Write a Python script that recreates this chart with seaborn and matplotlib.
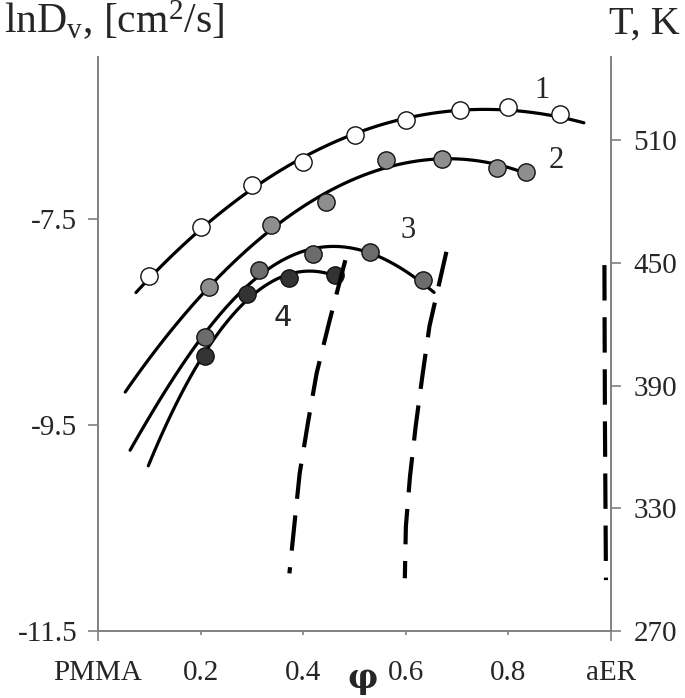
import matplotlib
matplotlib.use("Agg")
import matplotlib.pyplot as plt
import numpy as np
import pandas as pd
import seaborn as sns

# composition (phi) and lnDv, one set per curve
phi1 = [0.10, 0.20, 0.30, 0.40, 0.50, 0.60, 0.705, 0.80, 0.90]
lnd1 = [-8.05, -7.58, -7.17, -6.94, -6.68, -6.54, -6.44, -6.41, -6.48]
phi2 = [0.217, 0.337, 0.445, 0.561, 0.670, 0.777, 0.835]
lnd2 = [-8.16, -7.56, -7.33, -6.93, -6.92, -7.00, -7.04]
phi3 = [0.208, 0.313, 0.419, 0.531, 0.633]
lnd3 = [-8.64, -7.99, -7.84, -7.82, -8.09]
phi4 = [0.208, 0.291, 0.373, 0.461]
lnd4 = [-8.83, -8.23, -8.07, -8.04]

# where each drawn curve starts / stops (outside the markers)
ends1 = ([0.074, 0.947], [-8.25, -6.60])
ends2 = ([0.053], [-9.18])
ends3 = ([0.0625, 0.655], [-9.74, -8.24])
ends4 = ([0.098], [-9.89])

# dashed temperature curves, right axis (T, K)
dashA_phi = [0.482, 0.450, 0.426, 0.409, 0.393, 0.383, 0.373]
dashA_T = [451.4, 420.5, 396.0, 371.6, 347.1, 322.7, 298.2]
dashB_phi = [0.679, 0.646, 0.632, 0.619, 0.608, 0.600, 0.598]
dashB_T = [455.5, 419.1, 394.4, 369.9, 345.5, 321.0, 295.8]
dashC_phi = [0.987, 0.988, 0.990]
dashC_T = [449.0, 372.0, 294.9]

xtick_pos = [0, 0.2, 0.4, 0.6, 0.8, 1.0]
xtick_lab = ["PMMA", "0.2", "0.4", "0.6", "0.8", "aER"]
ytick_left = [-11.5, -9.5, -7.5]
ytick_right = [270, 330, 390, 450, 510]

sns.set_style("white")
plt.rcParams["font.family"] = ["Liberation Serif", "DejaVu Serif"]
plt.rcParams["mathtext.fontset"] = "custom"
plt.rcParams["mathtext.rm"] = "Liberation Serif"
plt.rcParams["mathtext.it"] = "Liberation Serif"

spine_col = "#808080"

fig = plt.figure(figsize=(6.85, 6.98), dpi=100)
ax = fig.add_axes([0.1431, 0.096, 0.749, 0.822])

curves = [
    (phi1, lnd1, ends1, "white", 3),
    (phi2, lnd2, ends2, "#8e8e8e", 4),
    (phi3, lnd3, ends3, "#6c6c6c", 4),
    (phi4, lnd4, ends4, "#333333", 3),
]
for phi, lnd, ends, col, order in curves:
    df = pd.DataFrame({"phi": list(phi) + ends[0], "lnd": list(lnd) + ends[1]})
    sns.regplot(data=df, x="phi", y="lnd", order=order, ci=None, scatter=False,
                truncate=True, line_kws={"color": "black", "lw": 2.3, "zorder": 2},
                ax=ax)
    sns.scatterplot(x=phi, y=lnd, s=155, color=col, edgecolor="#111111",
                    linewidth=1.0, zorder=3, ax=ax)

ax.set_xlim(0, 1)
ax.set_ylim(-11.5, -5.927)
ax.set_xlabel("")
ax.set_ylabel("")

ax2 = ax.twinx()
for px, pt in [(dashA_phi, dashA_T), (dashB_phi, dashB_T), (dashC_phi, dashC_T)]:
    sns.lineplot(x=px, y=pt, color="black", lw=3.0, sort=False, ax=ax2,
                 dashes=False).lines[-1].set_dashes((8.5, 4))
ax2.set_ylim(270, 550.7)
ax2.set_yticks(ytick_right)
ax2.set_ylabel("")

# axes styling
for a in (ax, ax2):
    a.spines["top"].set_visible(False)
    for s in ("left", "right", "bottom"):
        a.spines[s].set_color(spine_col)
        a.spines[s].set_linewidth(1.2)

ax.set_xticks(xtick_pos)
ax.set_xticklabels(xtick_lab)
ax.set_yticks(ytick_left)
ax.set_yticklabels(["-11.5", "-9.5", "-7.5"])
ax.tick_params(axis="x", direction="out", length=3, width=1.2, color=spine_col,
               pad=18, labelsize=21, bottom=True)
ax.tick_params(axis="y", direction="out", length=7, width=1.2, color=spine_col,
               pad=8, labelsize=21, left=True)
ax2.tick_params(axis="y", direction="out", length=7, width=1.2, color=spine_col,
                pad=9, labelsize=21, right=True)
ax.xaxis.get_major_ticks()[0].tick1line.set_markersize(7)
ax.xaxis.get_major_ticks()[-1].tick1line.set_markersize(7)

# curve numbers
ax.text(0.865, -6.25, "1", fontsize=22, ha="center", va="center")
ax.text(0.893, -6.93, "2", fontsize=22, ha="center", va="center")
ax.text(0.605, -7.61, "3", fontsize=22, ha="center", va="center")
ax.text(0.361, -8.46, "4", fontsize=21, ha="center", va="center",
        family=["DejaVu Sans"])

# axis titles
ax.text(0.516, -0.083, "\u03c6", transform=ax.transAxes, fontsize=24,
        fontweight="bold", ha="center", va="center", family=["DejaVu Serif"])
fig.text(0.006, 0.952, r"lnD$_{\rm v}$, [cm$^{2}$/s]", fontsize=30,
         ha="left", va="baseline")
fig.text(0.992, 0.952, "T, K", fontsize=29, ha="right", va="baseline")

fig.savefig("out.png", dpi=100)
